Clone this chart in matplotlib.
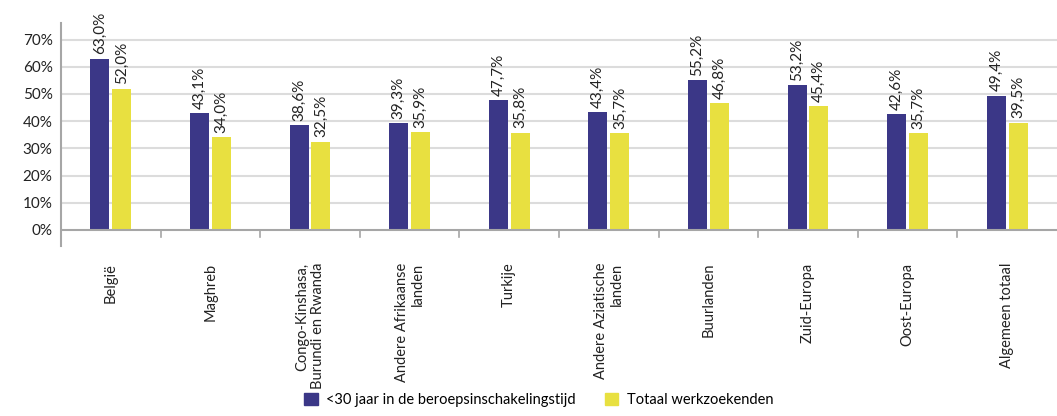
import numpy as np
import matplotlib
matplotlib.use("Agg")
import matplotlib.pyplot as plt
from matplotlib.patches import Patch
from matplotlib.ticker import FuncFormatter

plt.rcParams['font.family'] = ['Lato', 'DejaVu Sans']

categories = ["België", "Maghreb", "Congo-Kinshasa,\nBurundi en Rwanda",
              "Andere Afrikaanse\nlanden", "Turkije", "Andere Aziatische\nlanden",
              "Buurlanden", "Zuid-Europa", "Oost-Europa", "Algemeen totaal"]
jongeren = [63.0, 43.1, 38.6, 39.3, 47.7, 43.4, 55.2, 53.2, 42.6, 49.4]
totaal = [52.0, 34.0, 32.5, 35.9, 35.8, 35.7, 46.8, 45.4, 35.7, 39.5]
series_names = ["<30 jaar in de beroepsinschakelingstijd", "Totaal werkzoekenden"]

blauw = "#3b3787"
geel = "#e8e040"
grijs = "#a6a6a6"

fig = plt.figure(figsize=(10.57, 4.16), dpi=100)
ax = fig.add_axes([61 / 1057, 170 / 416, 996 / 1057, 223 / 416])

x = np.arange(len(categories))
w = 0.19
b1 = ax.bar(x - 0.11, jongeren, w, color=blauw, zorder=3)
b2 = ax.bar(x + 0.11, totaal, w, color=geel, zorder=3)

def fmt(v):
    return f"{v:.1f}".replace(".", ",") + "%"

for bars, vals in [(b1, jongeren), (b2, totaal)]:
    for r, v in zip(bars, vals):
        ax.annotate(fmt(v), (r.get_x() + r.get_width() / 2, r.get_height()),
                    xytext=(0, 3), textcoords="offset points",
                    rotation=90, ha="center", va="bottom", fontsize=11, color="#222222")

ax.set_xlim(-0.5, 9.5)
ax.set_ylim(-5.9, 76.1)

ax.set_yticks(range(0, 80, 10))
ax.yaxis.set_major_formatter(FuncFormatter(lambda v, p: f"{v:.0f}%"))
ax.tick_params(axis="y", length=0, labelsize=11, pad=6, labelcolor="#222222")
for yv in range(10, 80, 10):
    ax.axhline(yv, color="#dcdcdc", lw=1.5, zorder=1)
ax.axhline(0, color=grijs, lw=1.5, zorder=4)

ax.set_xticks(x)
ax.set_xticklabels(categories, rotation=90, va="top", ha="center",
                   multialignment="right", fontsize=10.5, color="#222222")
ax.tick_params(axis="x", length=0, pad=12)

for s in ["top", "right", "bottom"]:
    ax.spines[s].set_visible(False)
ax.spines["left"].set_color(grijs)
ax.spines["left"].set_linewidth(1.5)

# kleine streepjes tussen de categorieën, onder de nullijn
for xv in x[:-1] + 0.5:
    ax.plot([xv, xv], [0, -2.6], color=grijs, lw=1.2, zorder=4, clip_on=False)

handles = [Patch(color=blauw), Patch(color=geel)]
fig.legend(handles, series_names, loc="lower center", bbox_to_anchor=(539 / 1057, -0.01),
           ncol=2, frameon=False, fontsize=10.5, handlelength=0.9, handleheight=0.9,
           handletextpad=0.6, columnspacing=2.0)

fig.savefig("out.png", dpi=100)
